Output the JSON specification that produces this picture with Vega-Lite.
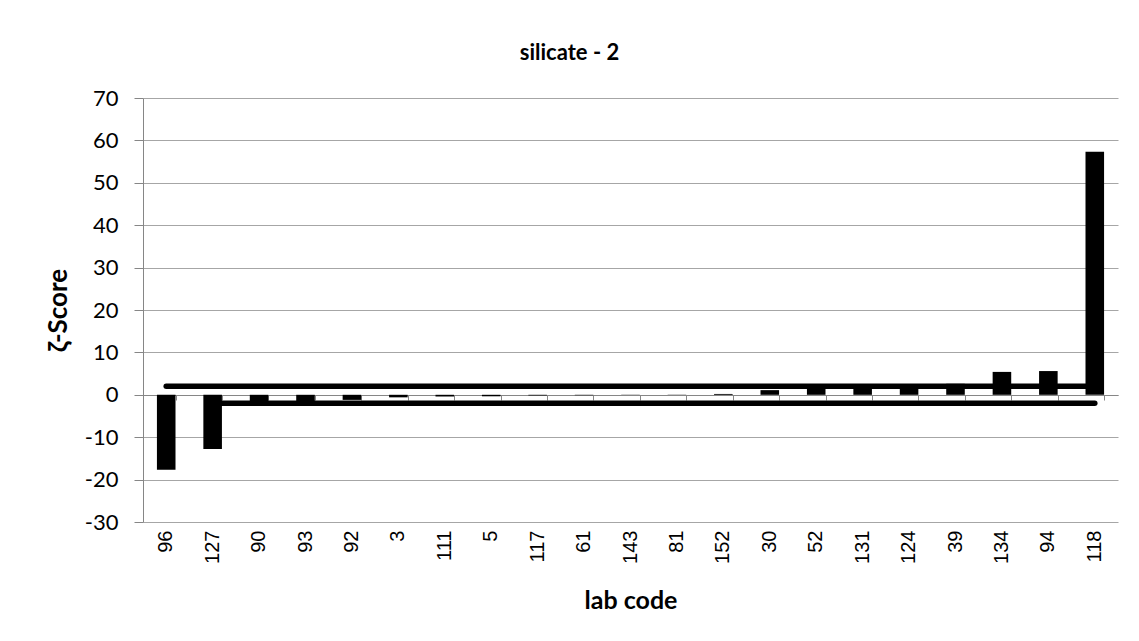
{
  "$schema": "https://vega.github.io/schema/vega-lite/v6.json",
  "width": 975,
  "height": 424,
  "autosize": {"type": "none"},
  "padding": {"left": 143, "top": 98, "right": 21, "bottom": 119},
  "background": "white",
  "config": {"view": {"stroke": null}},
  "title": {
    "text": "silicate - 2",
    "anchor": "middle",
    "dx": -61,
    "offset": 22,
    "font": "Lato",
    "fontSize": 22,
    "fontWeight": "bold",
    "color": "black"
  },
  "data": {
    "values": [
      {"code": "96", "z": -17.7, "upper": 2, "lower": null},
      {"code": "127", "z": -12.8, "upper": 2, "lower": -2},
      {"code": "90", "z": -1.8, "upper": 2, "lower": -2},
      {"code": "93", "z": -1.6, "upper": 2, "lower": -2},
      {"code": "92", "z": -1.2, "upper": 2, "lower": -2},
      {"code": "3", "z": -0.6, "upper": 2, "lower": -2},
      {"code": "111", "z": -0.4, "upper": 2, "lower": -2},
      {"code": "5", "z": -0.35, "upper": 2, "lower": -2},
      {"code": "117", "z": -0.15, "upper": 2, "lower": -2},
      {"code": "61", "z": -0.1, "upper": 2, "lower": -2},
      {"code": "143", "z": -0.05, "upper": 2, "lower": -2},
      {"code": "81", "z": 0.05, "upper": 2, "lower": -2},
      {"code": "152", "z": 0.2, "upper": 2, "lower": -2},
      {"code": "30", "z": 1.1, "upper": 2, "lower": -2},
      {"code": "52", "z": 1.8, "upper": 2, "lower": -2},
      {"code": "131", "z": 2.0, "upper": 2, "lower": -2},
      {"code": "124", "z": 2.1, "upper": 2, "lower": -2},
      {"code": "39", "z": 2.6, "upper": 2, "lower": -2},
      {"code": "134", "z": 5.4, "upper": 2, "lower": -2},
      {"code": "94", "z": 5.6, "upper": 2, "lower": -2},
      {"code": "118", "z": 57.3, "upper": 2, "lower": -2}
    ]
  },
  "layer": [
    {
      "mark": {"type": "bar", "color": "black"},
      "encoding": {
        "x": {
          "field": "code",
          "type": "ordinal",
          "sort": null,
          "scale": {"paddingInner": 0.6, "paddingOuter": 0.3},
          "axis": {
            "orient": "bottom",
            "domain": false,
            "ticks": false,
            "tickSize": 0,
            "labelAngle": -90,
            "labelFont": "Liberation Sans",
            "labelFontSize": 20,
            "labelColor": "black",
            "labelPadding": 8,
            "title": "lab code",
            "titleFont": "Lato",
            "titleFontSize": 25,
            "titleFontWeight": "bold",
            "titleColor": "black",
            "titleBaseline": "middle",
            "titleY": 78
          }
        },
        "y": {
          "field": "z",
          "type": "quantitative",
          "scale": {"domain": [-30, 70], "nice": false, "zero": false},
          "axis": {
            "values": [-30, -20, -10, 0, 10, 20, 30, 40, 50, 60, 70],
            "labelExpr": "toString(datum.value)",
            "grid": true,
            "gridColor": "#a6a6a6",
            "gridWidth": 1,
            "domainColor": "#868686",
            "tickColor": "#868686",
            "tickSize": 9,
            "labelFont": "Lato",
            "labelFontSize": 22,
            "labelColor": "black",
            "labelPadding": 16,
            "title": "ζ-Score",
            "titleFont": "Lato",
            "titleFontSize": 26,
            "titleFontWeight": "bold",
            "titleColor": "black",
            "titleBaseline": "middle",
            "titleX": -85,
            "titleY": 212
          }
        }
      }
    },
    {
      "mark": {"type": "line", "color": "black", "strokeWidth": 5.5, "strokeCap": "round"},
      "encoding": {
        "x": {
          "field": "code",
          "type": "ordinal",
          "sort": null,
          "axis": {
            "orient": "bottom",
            "offset": -127,
            "labels": false,
            "title": null,
            "domainColor": "#868686",
            "tickColor": "#868686",
            "tickSize": 5,
            "tickBand": "extent"
          }
        },
        "y": {"field": "upper", "type": "quantitative"}
      }
    },
    {
      "transform": [{"filter": "datum.lower != null"}],
      "mark": {"type": "line", "color": "black", "strokeWidth": 5.5, "strokeCap": "round"},
      "encoding": {
        "x": {"field": "code", "type": "ordinal", "sort": null, "axis": null},
        "y": {"field": "lower", "type": "quantitative"}
      }
    }
  ],
  "resolve": {"axis": {"x": "independent"}}
}
